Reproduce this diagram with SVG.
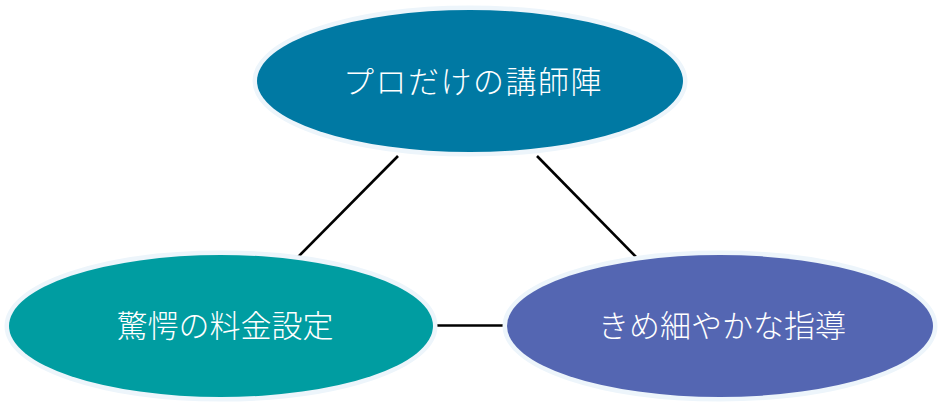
<svg xmlns="http://www.w3.org/2000/svg" width="942" height="405" viewBox="0 0 942 405">
<style>
.glow{fill:none;stroke:#edf5fb;stroke-width:9}
.lbl{font-family:"Noto Sans CJK JP","Noto Sans CJK SC",sans-serif;font-size:31px;fill:#ffffff;text-anchor:middle;font-weight:300}
.conn{stroke:#000000;stroke-width:2.6;fill:none}
</style>
<rect width="942" height="405" fill="#ffffff"/>
<g id="connectors">
<line class="conn" x1="398" y1="156" x2="295" y2="260"/>
<line class="conn" x1="537" y1="156" x2="641" y2="262"/>
<line class="conn" x1="433" y1="325.5" x2="508" y2="325.5"/>
</g>
<g id="node-top">
<ellipse class="glow" cx="470" cy="81" rx="213" ry="71"/>
<ellipse cx="470" cy="81" rx="213" ry="71" fill="#0079a3"/>
<text class="lbl" x="473" y="93" letter-spacing="1.5">プロだけの講師陣</text>
</g>
<g id="node-left">
<ellipse class="glow" cx="221" cy="326" rx="212" ry="71"/>
<ellipse cx="221" cy="326" rx="212" ry="71" fill="#009da1"/>
<text class="lbl" x="225" y="337">驚愕の料金設定</text>
</g>
<g id="node-right">
<ellipse class="glow" cx="720" cy="326" rx="213" ry="71"/>
<ellipse cx="720" cy="326" rx="213" ry="71" fill="#5466b2"/>
<text class="lbl" x="722" y="337">きめ細やかな指導</text>
</g>
</svg>
